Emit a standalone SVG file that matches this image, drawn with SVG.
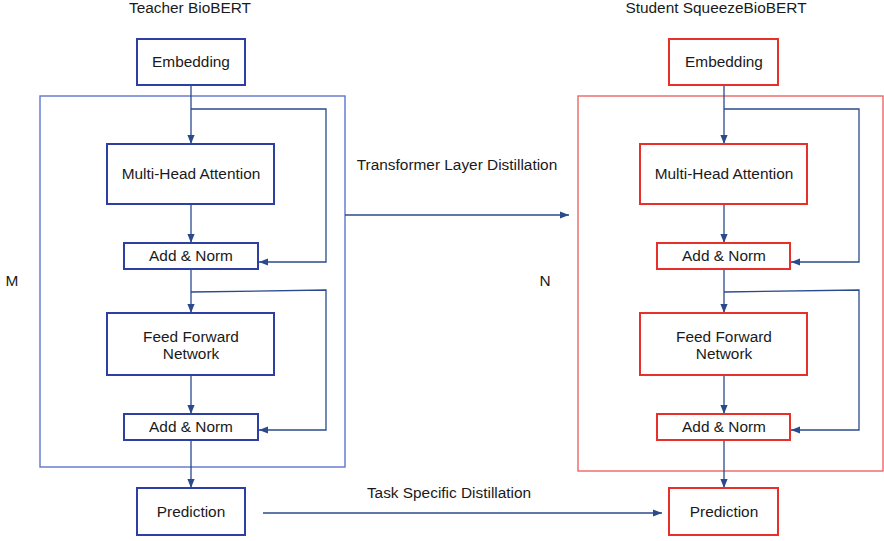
<svg xmlns="http://www.w3.org/2000/svg" width="884" height="541" viewBox="0 0 884 541">
<defs>
<marker id="ah" viewBox="0 0 10 10" refX="10" refY="5" markerWidth="9" markerHeight="9" markerUnits="userSpaceOnUse" orient="auto">
<path d="M0,1 L10,5 L0,9 z" fill="#2A4A8C"/>
</marker>
<style>
text{font-family:"Liberation Sans",Arial,Helvetica,sans-serif;font-size:15.4px;fill:#1a1a1a;text-anchor:middle}
.tb{fill:#fff;stroke:#2E3FA3;stroke-width:2}
.sb{fill:#fff;stroke:#E8302A;stroke-width:2}
.to{fill:none;stroke:#5F74CC;stroke-width:1.4}
.so{fill:none;stroke:#EC6666;stroke-width:1.4}
.ca{fill:none;stroke:#2A4A8C;stroke-width:1.3;marker-end:url(#ah)}
</style>
</defs>
<rect width="884" height="541" fill="#fff"/>
<g id="outer-boxes">
<rect class="to" x="40" y="96" width="305" height="371"/>
<rect class="so" x="578" y="96" width="305" height="375"/>
</g>
<g id="labels">
<text x="190" y="13">Teacher BioBERT</text>
<text x="716" y="13">Student SqueezeBioBERT</text>
<text x="12" y="286">M</text>
<text x="545" y="286">N</text>
<text x="457" y="170">Transformer Layer Distillation</text>
<text x="449" y="498">Task Specific Distillation</text>
</g>
<g id="connectors">
<path class="ca" d="M191,85 V144"/>
<path class="ca" d="M191,109 H326 V262 H259"/>
<path class="ca" d="M191,204 V243"/>
<path class="ca" d="M191,269 V313"/>
<path class="ca" d="M191,292 L326,290 V430 H259"/>
<path class="ca" d="M191,375 V414"/>
<path class="ca" d="M191,440 V488"/>
<path class="ca" d="M724,85 V144"/>
<path class="ca" d="M724,109 H859 V262 H791"/>
<path class="ca" d="M724,204 V243"/>
<path class="ca" d="M724,269 V313"/>
<path class="ca" d="M724,292 L859,290 V430 H791"/>
<path class="ca" d="M724,375 V414"/>
<path class="ca" d="M724,440 V488"/>
<path class="ca" d="M345,215 H569"/>
<path class="ca" d="M263,513 H662"/>
</g>
<g id="t-embedding"><rect class="tb" x="137" y="39" width="108" height="46"/><text x="191" y="67">Embedding</text></g>
<g id="t-mha"><rect class="tb" x="107" y="144" width="167" height="60"/><text x="191" y="179">Multi-Head Attention</text></g>
<g id="t-addnorm1"><rect class="tb" x="124" y="243" width="134" height="26"/><text x="191" y="261">Add &amp; Norm</text></g>
<g id="t-ffn"><rect class="tb" x="107" y="313" width="167" height="62"/><text x="191" y="342">Feed Forward</text><text x="191" y="359">Network</text></g>
<g id="t-addnorm2"><rect class="tb" x="124" y="414" width="134" height="26"/><text x="191" y="432">Add &amp; Norm</text></g>
<g id="t-prediction"><rect class="tb" x="137" y="488" width="108" height="47"/><text x="191" y="517">Prediction</text></g>
<g id="s-embedding"><rect class="sb" x="669" y="39" width="109" height="46"/><text x="724" y="67">Embedding</text></g>
<g id="s-mha"><rect class="sb" x="640" y="144" width="167" height="60"/><text x="724" y="179">Multi-Head Attention</text></g>
<g id="s-addnorm1"><rect class="sb" x="657" y="243" width="133" height="26"/><text x="724" y="261">Add &amp; Norm</text></g>
<g id="s-ffn"><rect class="sb" x="640" y="313" width="167" height="62"/><text x="724" y="342">Feed Forward</text><text x="724" y="359">Network</text></g>
<g id="s-addnorm2"><rect class="sb" x="657" y="414" width="133" height="26"/><text x="724" y="432">Add &amp; Norm</text></g>
<g id="s-prediction"><rect class="sb" x="669" y="488" width="109" height="47"/><text x="724" y="517">Prediction</text></g>
</svg>
